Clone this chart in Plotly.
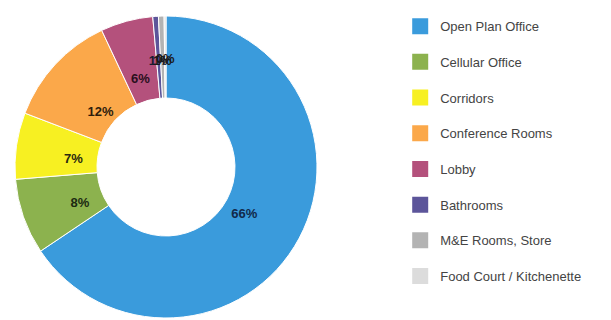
import plotly.graph_objects as go

labels = ["Open Plan Office", "Cellular Office", "Corridors", "Conference Rooms",
          "Lobby", "Bathrooms", "M&E Rooms, Store", "Food Court / Kitchenette"]
values = [65.6, 8.1, 7.1, 12.2, 5.6, 0.6, 0.6, 0.2]
colors = ["#3a9bdc", "#8cb24e", "#f7f022", "#fba84a", "#b4517c", "#5c559a", "#b3b3b3", "#dcdcdc"]
text_colors = ["#11294a", "#1c2a12", "#2a2a10", "#2e1c0c", "#2a0f1c", "#1a1a33", "#1a1a1a", "#1a1a1a"]

W, H = 611, 320
cx, cy, r_out, r_in = 166, 167, 151, 69

fig = go.Figure()

# main donut (no text)
fig.add_trace(go.Pie(
    labels=labels,
    values=values,
    sort=False,
    direction="clockwise",
    rotation=0,
    hole=r_in / r_out,
    marker=dict(colors=colors, line=dict(color="white", width=1)),
    textinfo="none",
    showlegend=False,
    domain=dict(x=[(cx - r_out) / W, (cx + r_out) / W],
                y=[(H - cy - r_out) / H, (H - cy + r_out) / H]),
))

# transparent ring used only to place the percentage labels nearer the hole
lab_cy, r_lab, r_lab_in = cy + 5, 114, 64
fig.add_trace(go.Pie(
    labels=labels,
    values=values,
    sort=False,
    direction="clockwise",
    rotation=0,
    hole=r_lab_in / r_lab,
    marker=dict(colors=["rgba(0,0,0,0)"] * len(labels), line=dict(width=0)),
    texttemplate="<b>%{percent:.0%}</b>",
    textposition="inside",
    insidetextorientation="horizontal",
    textfont=dict(family="Liberation Sans, Arial, sans-serif", size=13, color=text_colors),
    hoverinfo="skip",
    showlegend=False,
    domain=dict(x=[(cx - r_lab) / W, (cx + r_lab) / W],
                y=[(H - lab_cy - r_lab) / H, (H - lab_cy + r_lab) / H]),
))

# legend entries with larger square swatches
for lab, col in zip(labels, colors):
    fig.add_trace(go.Scatter(
        x=[None], y=[None], mode="markers",
        marker=dict(symbol="square", size=16, color=col),
        name=lab, legendgroup=lab, showlegend=True, hoverinfo="skip",
    ))

fig.update_layout(
    width=W, height=H,
    margin=dict(l=0, r=0, t=0, b=0),
    paper_bgcolor="white",
    plot_bgcolor="white",
    xaxis=dict(visible=False),
    yaxis=dict(visible=False),
    uniformtext=dict(minsize=13, mode="show"),
    legend=dict(
        x=0.655, y=0.965, xanchor="left", yanchor="top",
        font=dict(family="Liberation Sans, Arial, sans-serif", size=13, color="#444444"),
        tracegroupgap=15.8,
        itemsizing="trace",
        bgcolor="rgba(0,0,0,0)",
    ),
)

fig.write_html("out.html")
